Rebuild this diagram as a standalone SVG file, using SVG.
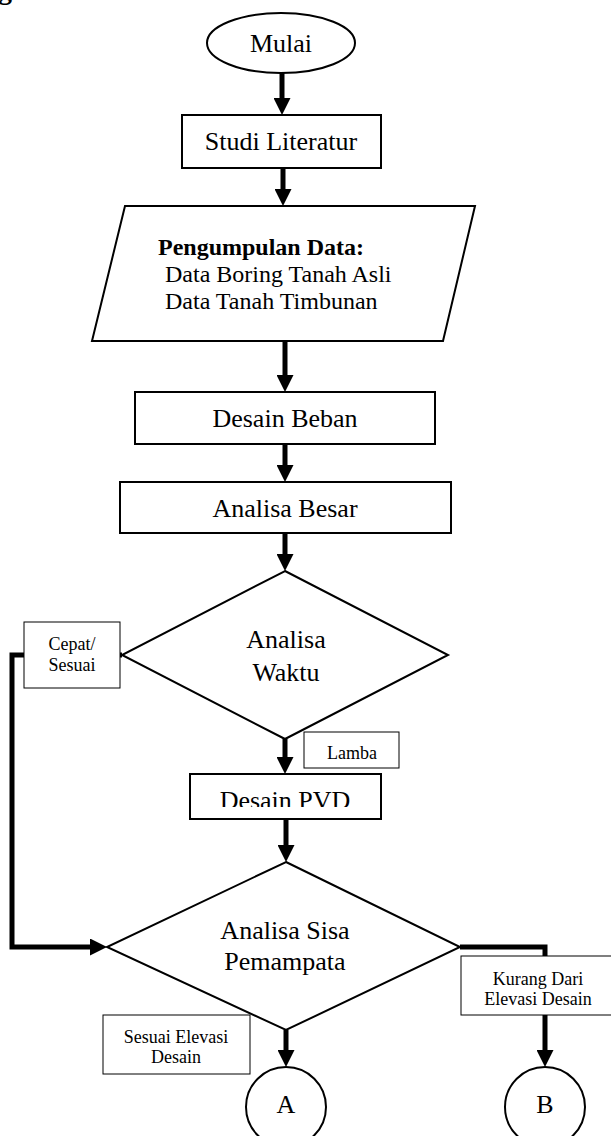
<svg xmlns="http://www.w3.org/2000/svg" width="611" height="1136" viewBox="0 0 611 1136">
<style>
  text { font-family: "Liberation Serif", "Times New Roman", serif; fill: #000; }
  .main { font-size: 26px; text-anchor: middle; }
  .data { font-size: 24px; }
  .small { font-size: 18px; text-anchor: middle; }
  .shape { fill: #fff; stroke: #000; stroke-width: 2; }
  .label { fill: #fff; stroke: #000; stroke-width: 1; }
  .conn { fill: none; stroke: #000; stroke-width: 5; stroke-linejoin: miter; marker-end: url(#arrow); }
</style>
<defs>
  <marker id="arrow" markerUnits="userSpaceOnUse" viewBox="0 0 17 17" markerWidth="17" markerHeight="17" refX="0" refY="8.5" orient="auto">
    <path d="M0,0 L17,8.5 L0,17 z" fill="#000"/>
  </marker>
  <clipPath id="pvdclip"><rect x="190" y="774" width="191" height="33"/></clipPath>
</defs>
<rect width="611" height="1136" fill="#fff"/>
<text x="-2" y="-1" font-size="28" font-weight="bold">g</text>

<g id="connectors">
  <path class="conn" d="M282,73 V98"/>
  <path class="conn" d="M283,168 V189"/>
  <path class="conn" d="M285,341 V375"/>
  <path class="conn" d="M285,444 V465"/>
  <path class="conn" d="M285,533 V554"/>
  <path class="conn" d="M285,739 V757"/>
  <path class="conn" d="M286,819 V845"/>
  <path class="conn" d="M122,655 H12 V947 H90"/>
  <path class="conn" d="M460,947 H545 V1050"/>
  <path class="conn" d="M286,1030 V1050"/>
</g>

<g id="mulai">
  <ellipse class="shape" cx="281" cy="43" rx="74" ry="30"/>
  <text class="main" x="281" y="52">Mulai</text>
</g>
<g id="studi-literatur">
  <rect class="shape" x="182" y="115" width="199" height="53"/>
  <text class="main" x="281" y="150">Studi Literatur</text>
</g>
<g id="pengumpulan-data">
  <polygon class="shape" points="125,206 475,206 443,341 92,341"/>
  <text class="data" x="158" y="255" font-weight="bold">Pengumpulan Data:</text>
  <text class="data" x="165" y="282">Data Boring Tanah Asli</text>
  <text class="data" x="165" y="309">Data Tanah Timbunan</text>
</g>
<g id="desain-beban">
  <rect class="shape" x="135" y="392" width="300" height="52"/>
  <text class="main" x="285" y="427">Desain Beban</text>
</g>
<g id="analisa-besar">
  <rect class="shape" x="120" y="482" width="331" height="51"/>
  <text class="main" x="285" y="517">Analisa Besar</text>
</g>
<g id="analisa-waktu">
  <polygon class="shape" points="285,571 448,655 285,739 122,655"/>
  <text class="main" x="286" y="648">Analisa</text>
  <text class="main" x="286" y="681">Waktu</text>
</g>
<g id="label-cepat">
  <rect class="label" x="24" y="622" width="96" height="66"/>
  <text class="small" x="72" y="650">Cepat/</text>
  <text class="small" x="72" y="671">Sesuai</text>
</g>
<g id="label-lamba">
  <rect class="label" x="304" y="732" width="95" height="36"/>
  <text class="small" x="352" y="759">Lamba</text>
</g>
<g id="desain-pvd">
  <rect class="shape" x="190" y="774" width="191" height="45"/>
  <text class="main" x="285" y="809" clip-path="url(#pvdclip)">Desain PVD</text>
</g>
<g id="analisa-sisa">
  <polygon class="shape" points="286,862 460,947 286,1030 107,947"/>
  <text class="main" x="285" y="939">Analisa Sisa</text>
  <text class="main" x="285" y="970">Pemampata</text>
</g>
<g id="label-kurang">
  <rect class="label" x="461" y="956" width="156" height="59"/>
  <text class="small" x="538" y="985">Kurang Dari</text>
  <text class="small" x="538" y="1005">Elevasi Desain</text>
</g>
<g id="label-sesuai">
  <rect class="label" x="103" y="1015" width="147" height="59"/>
  <text class="small" x="176" y="1043">Sesuai Elevasi</text>
  <text class="small" x="176" y="1063">Desain</text>
</g>
<g id="node-a">
  <circle class="shape" cx="286" cy="1107" r="40"/>
  <text class="main" x="286" y="1113" font-size="25">A</text>
</g>
<g id="node-b">
  <circle class="shape" cx="545" cy="1107" r="40"/>
  <text class="main" x="545" y="1113" font-size="25">B</text>
</g>
</svg>
